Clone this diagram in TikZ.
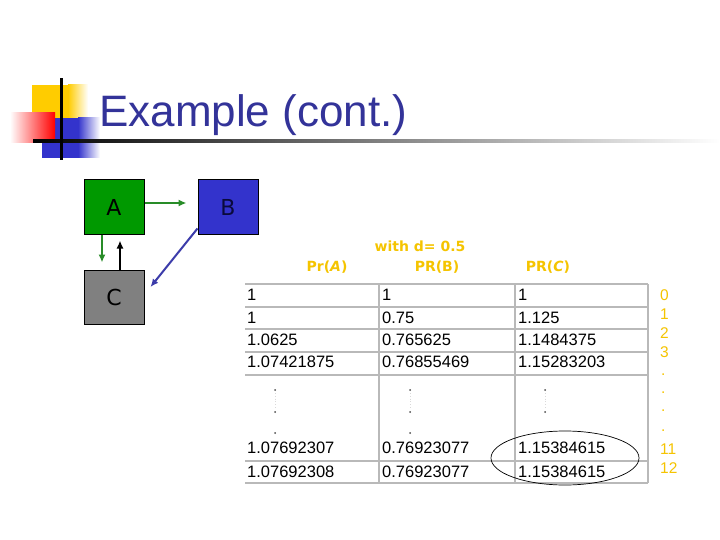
\documentclass[tikz,border=0pt]{standalone}
\usepackage{fontspec}
\setmainfont{Liberation Sans}
\newfontfamily\labfont{DejaVu Sans}
\usetikzlibrary{arrows.meta}
\definecolor{titleblue}{RGB}{51,51,153}
\definecolor{sqyellow}{RGB}{255,204,0}
\definecolor{sqblue}{RGB}{51,51,204}
\definecolor{sqred}{RGB}{255,0,0}
\definecolor{gold}{RGB}{245,196,0}
\definecolor{nodegreen}{RGB}{0,153,0}
\definecolor{nodeblue}{RGB}{51,51,204}
\definecolor{nodegray}{RGB}{128,128,128}
\definecolor{gridgray}{RGB}{185,185,185}
\definecolor{arrowgreen}{RGB}{40,140,40}
\definecolor{arrowblue}{RGB}{60,60,170}
\definecolor{labnavy}{RGB}{10,10,60}
\tikzset{
  gnode/.style={draw=black, line width=1pt, minimum width=60pt, minimum height=54pt, inner sep=0pt, font=\labfont\fontsize{22}{24}\selectfont},
  conn/.style={line width=2pt, -{Latex[length=8pt,width=7pt]}},
  yel/.style={text=gold, font=\labfont\bfseries\fontsize{14}{16}\selectfont},
  num/.style={anchor=west, inner sep=0pt, font=\fontsize{16.5}{18}\selectfont},
  grid/.style={draw=gridgray, line width=2pt},
  idx/.style={anchor=west, inner sep=0pt, text=gold, font=\fontsize{15.5}{17}\selectfont}
}
\begin{document}
\begin{tikzpicture}[x=1pt,y=-1pt]
\useasboundingbox (0,0) rectangle (720,540);
\fill[white] (0,0) rectangle (720,540);
% title decoration
\fill[sqyellow] (32,85) rectangle (68,118);
\shade[left color=sqyellow, right color=white] (68,85) rectangle (88,118);
\fill[sqblue] (42,118) rectangle (78,158);
\shade[left color=sqblue, right color=white] (78,118) rectangle (100,158);
\shade[left color=white, right color=sqred] (10,113) rectangle (55,143);
\shade[left color=black, right color=white] (33,139.5) rectangle (720,142.5);
\fill[black] (59.5,78) rectangle (62.5,160);
\node[anchor=base west, inner sep=0pt, text=titleblue, font=\fontsize{44}{48}\selectfont] (title) at (99,127) {Example (cont.)};
% graph
\node[gnode, fill=nodegreen] (A) at (114,207) {A};
\node[gnode, fill=nodeblue, text=labnavy] (B) at (228,207) {B};
\node[gnode, fill=nodegray] (C) at (114,297) {C};
\draw[conn, arrowgreen] ([yshift=4pt]A.east) -- ([xshift=-11pt,yshift=4pt]B.west);
\draw[conn, arrowgreen] ([xshift=-12pt]A.south) -- ([xshift=-12pt,yshift=7pt]C.north);
\draw[conn, black] ([xshift=6pt]C.north) -- ([xshift=6pt,yshift=-6pt]A.south);
\draw[conn, arrowblue] ([yshift=6pt]B.south west) -- ([xshift=6pt,yshift=10pt]C.east);
% headers
\node[yel] (hd) at (420,246) {with d= 0.5};
\node[yel] (ha) at (327,267) {Pr(\textit{A})};
\node[yel] (hb) at (437,267) {PR(B)};
\node[yel] (hc) at (548,267) {PR(\textit{C})};
% table grid
\draw[grid] (245,284) -- (648,284);
\draw[grid] (245,307) -- (648,307);
\draw[grid] (245,329) -- (648,329);
\draw[grid] (245,352) -- (648,352);
\draw[grid] (245,375) -- (648,375);
\draw[grid] (245,461) -- (648,461);
\draw[grid] (245,483) -- (648,483);
\draw[grid] (379,284) -- (379,483);
\draw[grid] (515,284) -- (515,483);
\draw[grid] (648,284) -- (648,483);
% table values
\node[num] (r1a) at (247,295) {1};
\node[num] (r1b) at (382,295) {1};
\node[num] (r1c) at (518,295) {1};
\node[num] (r2a) at (247,318) {1};
\node[num] (r2b) at (382,318) {0.75};
\node[num] (r2c) at (518,318) {1.125};
\node[num] (r3a) at (247,340) {1.0625};
\node[num] (r3b) at (382,340) {0.765625};
\node[num] (r3c) at (518,340) {1.1484375};
\node[num] (r4a) at (247,362) {1.07421875};
\node[num] (r4b) at (382,362) {0.76855469};
\node[num] (r4c) at (518,362) {1.15283203};
\node[num] (r5a) at (247,448) {1.07692307};
\node[num] (r5b) at (382,448) {0.76923077};
\node[num] (r5c) at (518,448) {1.15384615};
\node[num] (r6a) at (247,472) {1.07692308};
\node[num] (r6b) at (382,472) {0.76923077};
\node[num] (r6c) at (518,472) {1.15384615};
% vertical dots
\foreach \x/\n in {275/a,410/b,545/c}{
  \fill[black!70] (\x,390) circle (1pt);
  \fill[black!70] (\x,412) circle (1pt);
  \draw[black!15, line width=0.8pt, dotted] (\x,393) -- (\x,409);
}
\fill[black!70] (275,433) circle (1pt);
\fill[black!70] (410,433) circle (1pt);
% ellipse
\draw[black, line width=0.7pt] (565,458) ellipse [x radius=74, y radius=27];
% indices
\node[idx] (i0) at (660,295) {0};
\node[idx] (i1) at (660,314) {1};
\node[idx] (i2) at (660,333) {2};
\node[idx] (i3) at (660,352) {3};
\node[idx] (d1) at (661,375) {.};
\node[idx] (d2) at (661,393) {.};
\node[idx] (d3) at (661,411) {.};
\node[idx] (d4) at (661,431) {.};
\node[idx] (i11) at (660,449) {11};
\node[idx] (i12) at (660,468) {12};
\end{tikzpicture}
\end{document}
